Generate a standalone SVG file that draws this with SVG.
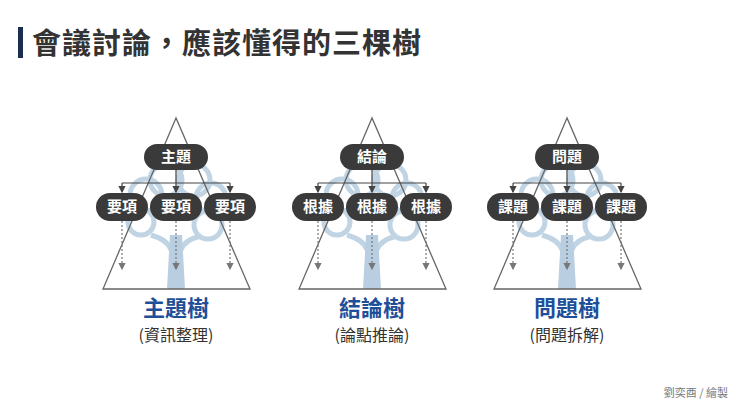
<svg xmlns="http://www.w3.org/2000/svg" xmlns:xlink="http://www.w3.org/1999/xlink" width="740" height="416" viewBox="0 0 740 416">
<style>
text{font-family:"Noto Sans CJK TC","Noto Sans CJK SC",sans-serif}
.pill{fill:#3a3a3a}
.pt{fill:#fff;font-size:15px;font-weight:bold;text-anchor:middle}
.tri{fill:none;stroke:#666;stroke-width:1.3}
.ln{fill:none;stroke:#444;stroke-width:1.2}
.dot{fill:none;stroke:#777;stroke-width:1.2;stroke-dasharray:2 2}
.crown{fill:none;stroke:#c0d4e4;stroke-width:5}
.trunk{fill:#b9cfe1}
.tt{fill:#1f4f99;font-size:22px;font-weight:bold;text-anchor:middle}
.st{fill:#333;font-size:16px;text-anchor:middle}
</style>
<defs>
<marker id="a" markerWidth="6" markerHeight="6" refX="5" refY="3" orient="auto"><path d="M0,0L6,3L0,6z" fill="#444"/></marker>
<marker id="b" markerWidth="6" markerHeight="6" refX="5" refY="3" orient="auto"><path d="M0,0L6,3L0,6z" fill="#777"/></marker>
<g id="tree">
<circle class="crown" cx="-30" cy="195" r="16"/>
<circle class="crown" cx="-10" cy="180" r="16"/>
<circle class="crown" cx="18" cy="180" r="16"/>
<circle class="crown" cx="35" cy="198" r="15"/>
<circle class="crown" cx="-35" cy="222" r="13"/>
<circle class="crown" cx="32" cy="225" r="14"/>
<path class="crown" d="M-25,235 Q-8,240 -5,250 M25,236 Q8,240 5,250"/>
<path class="trunk" d="M-6,235 L6,235 L9,289 L-9,289Z"/>
</g>
<g id="tri">
<path class="tri" d="M0,118 L-73,289 L74,289Z"/>
<path class="ln" d="M0,170 V183 M-54,183 H54" />
<path class="ln" d="M-54,183 V192" marker-end="url(#a)"/>
<path class="ln" d="M0,183 V192" marker-end="url(#a)"/>
<path class="ln" d="M54,183 V192" marker-end="url(#a)"/>
<path class="dot" d="M-54,221 V269" marker-end="url(#b)"/>
<path class="dot" d="M0,221 V269" marker-end="url(#b)"/>
<path class="dot" d="M54,221 V269" marker-end="url(#b)"/>
</g>
</defs>
<rect width="740" height="416" fill="#fff"/>
<rect x="18" y="27" width="5" height="31" fill="#1a2f4f"/>
<text x="32" y="54" font-size="29" font-weight="bold" fill="#333" letter-spacing="1">會議討論，應該懂得的三棵樹</text>

<g id="bg1" transform="translate(176,0)"><use xlink:href="#tree"/></g>
<g id="bg2" transform="translate(372,0)"><use xlink:href="#tree"/></g>
<g id="bg3" transform="translate(567,0)"><use xlink:href="#tree"/></g>
<g id="connectors">
<use xlink:href="#tri" transform="translate(176,0)"/>
<use xlink:href="#tri" transform="translate(372,0)"/>
<use xlink:href="#tri" transform="translate(567,0)"/>
</g>

<g id="t1">
<rect class="pill" x="144" y="144" width="64" height="26" rx="13"/><text class="pt" x="176" y="162">主題</text>
<rect class="pill" x="96" y="193" width="52" height="28" rx="14"/><text class="pt" x="122" y="212">要項</text>
<rect class="pill" x="150" y="193" width="52" height="28" rx="14"/><text class="pt" x="176" y="212">要項</text>
<rect class="pill" x="204" y="193" width="52" height="28" rx="14"/><text class="pt" x="230" y="212">要項</text>
<text class="tt" x="176" y="316">主題樹</text><text class="st" x="176" y="341">(資訊整理)</text>
</g>
<g id="t2">
<rect class="pill" x="340" y="144" width="64" height="26" rx="13"/><text class="pt" x="372" y="162">結論</text>
<rect class="pill" x="292" y="193" width="52" height="28" rx="14"/><text class="pt" x="318" y="212">根據</text>
<rect class="pill" x="346" y="193" width="52" height="28" rx="14"/><text class="pt" x="372" y="212">根據</text>
<rect class="pill" x="400" y="193" width="52" height="28" rx="14"/><text class="pt" x="426" y="212">根據</text>
<text class="tt" x="372" y="316">結論樹</text><text class="st" x="372" y="341">(論點推論)</text>
</g>
<g id="t3">
<rect class="pill" x="535" y="144" width="64" height="26" rx="13"/><text class="pt" x="567" y="162">問題</text>
<rect class="pill" x="487" y="193" width="52" height="28" rx="14"/><text class="pt" x="513" y="212">課題</text>
<rect class="pill" x="541" y="193" width="52" height="28" rx="14"/><text class="pt" x="567" y="212">課題</text>
<rect class="pill" x="595" y="193" width="52" height="28" rx="14"/><text class="pt" x="621" y="212">課題</text>
<text class="tt" x="567" y="316">問題樹</text><text class="st" x="567" y="341">(問題拆解)</text>
</g>
<text x="728" y="397" font-size="11" fill="#777" text-anchor="end">劉奕酉 / 繪製</text>
</svg>
